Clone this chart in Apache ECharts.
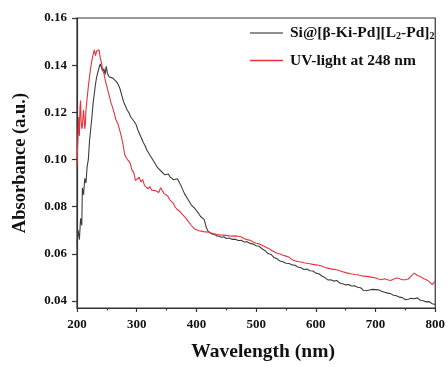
<!DOCTYPE html>
<html>
<head>
<meta charset="utf-8">
<script src="https://cdn.jsdelivr.net/npm/echarts@6/dist/echarts.min.js"></script>
<style>
  html, body { margin: 0; padding: 0; background: #fff; }
  #chart { width: 448px; height: 367px; }
</style>
</head>
<body>
<div id="chart"></div>
<script>
let seriesNames = ["Si@[β-Ki-Pd][L2-Pd]2", "UV-light at 248 nm"];
let seriesColors = ["#3d3d3d", "#e8333c"];
let xTicks = [200, 300, 400, 500, 600, 700, 800];
let yTicks = [0.04, 0.06, 0.08, 0.10, 0.12, 0.14, 0.16];

// Si@[β-Ki-Pd][L2-Pd]2 (black)
let wlBlack = [
  200, 202, 204, 206, 208, 209, 211, 213, 215, 217, 219, 221, 223, 225, 227, 229, 231, 233, 235, 237,
  239, 241, 243, 245, 247, 249, 251, 254, 257, 260, 263, 266, 269, 272, 275, 278, 281, 284, 287, 290,
  293, 296, 299, 302, 305, 308, 311, 314, 317, 320, 323, 326, 329, 332, 335, 338, 341, 344, 347, 350,
  353, 356, 359, 362, 365, 368, 371, 374, 377, 380, 383, 386, 389, 392, 395, 398, 401, 404, 407, 410,
  413, 416, 419, 422, 426, 430, 434, 438, 442, 446, 450, 455, 460, 465, 470, 475, 480, 485, 490, 495,
  500, 505, 510, 515, 520, 525, 530, 535, 540, 545, 550, 555, 560, 565, 570, 575, 580, 585, 590, 595,
  600, 605, 610, 615, 620, 625, 630, 635, 640, 645, 650, 655, 660, 665, 670, 675, 680, 685, 690, 695,
  700, 705, 710, 715, 720, 725, 730, 735, 740, 745, 750, 755, 760, 765, 770, 775, 780, 785, 790, 795, 800
];
let absBlack = [
  0.064, 0.070, 0.066, 0.075, 0.072, 0.088, 0.085, 0.092, 0.090, 0.097, 0.100, 0.108, 0.113, 0.118, 0.124, 0.128, 0.132, 0.135, 0.137, 0.139,
  0.1405, 0.139, 0.1375, 0.1385, 0.136, 0.1395, 0.1365, 0.135, 0.1355, 0.1345, 0.1348, 0.133, 0.1318, 0.1300, 0.1272, 0.1245, 0.1238, 0.1210, 0.1198, 0.1180,
  0.1178, 0.1160, 0.1148, 0.1125, 0.1118, 0.1090, 0.1072, 0.1058, 0.1040, 0.1032, 0.1015, 0.1008, 0.0990, 0.0987, 0.0965, 0.0962, 0.0950, 0.0948, 0.0935, 0.0932,
  0.0938, 0.0925, 0.0922, 0.0914, 0.0912, 0.0918, 0.0904, 0.0890, 0.0872, 0.0855, 0.0848, 0.0830, 0.0822, 0.0805, 0.0798, 0.0790, 0.0788, 0.0770, 0.0758, 0.0750,
  0.0746, 0.0716, 0.0697, 0.0692, 0.0684, 0.0682, 0.0676, 0.0674, 0.0670, 0.0672, 0.0665, 0.0667, 0.0661, 0.0662, 0.0656, 0.0657, 0.0650, 0.0651, 0.0644, 0.0641,
  0.0634, 0.0632, 0.0621, 0.0613, 0.0601, 0.0597, 0.0584, 0.0579, 0.0569, 0.0566, 0.0560, 0.0559, 0.0553, 0.0551, 0.0544, 0.0541, 0.0533, 0.0535, 0.0528, 0.0527,
  0.0518, 0.0515, 0.0506, 0.0499, 0.0489, 0.0490, 0.0484, 0.0487, 0.0476, 0.0473, 0.0468, 0.0470, 0.0463, 0.0464, 0.0458, 0.0456, 0.0445, 0.0443, 0.0446, 0.0449,
  0.0448, 0.0447, 0.0441, 0.0437, 0.0433, 0.0431, 0.0424, 0.0422, 0.0416, 0.0414, 0.0405, 0.0407, 0.0411, 0.0409, 0.0413, 0.0403, 0.0401, 0.0396, 0.0397, 0.0388, 0.0385
];

// UV-light at 248 nm (red)
let wlRed = [
  200, 201, 202, 203, 204, 205, 206, 207, 208, 209, 210, 211, 212, 213, 214, 215, 217, 219, 221, 223,
  225, 227, 229, 231, 233, 235, 237, 239, 241, 243, 245, 247, 249, 251, 253, 255, 257, 259, 262, 265,
  268, 271, 274, 277, 280, 283, 286, 289, 292, 295, 298, 301, 304, 307, 310, 313, 316, 319, 322, 325,
  328, 331, 334, 337, 340, 343, 346, 349, 352, 355, 358, 361, 364, 367, 370, 373, 376, 379, 382, 385,
  388, 391, 394, 397, 400, 404, 408, 412, 416, 420, 425, 430, 435, 440, 445, 450, 455, 460, 465, 470,
  475, 480, 485, 490, 495, 500, 505, 510, 515, 520, 525, 530, 535, 540, 545, 550, 555, 560, 565, 570,
  575, 580, 585, 590, 595, 600, 605, 610, 615, 620, 625, 630, 635, 640, 645, 650, 655, 660, 665, 670,
  675, 680, 685, 690, 695, 700, 705, 710, 715, 720, 725, 730, 735, 740, 745, 750, 755, 760, 765, 770,
  775, 780, 785, 790, 795, 800
];
let absRed = [
  0.097, 0.105, 0.112, 0.118, 0.110, 0.122, 0.125, 0.116, 0.113, 0.114, 0.118, 0.121, 0.117, 0.113, 0.115, 0.121, 0.126, 0.131, 0.135, 0.139,
  0.142, 0.1445, 0.1465, 0.144, 0.146, 0.1455, 0.1465, 0.143, 0.141, 0.138, 0.1365, 0.134, 0.132, 0.130, 0.128, 0.126, 0.124, 0.1225, 0.120, 0.117,
  0.1155, 0.113, 0.110, 0.1065, 0.102, 0.1005, 0.0995, 0.0985, 0.0955, 0.0945, 0.0910, 0.0905, 0.0925, 0.0905, 0.0915, 0.0890, 0.0885, 0.0875, 0.0885, 0.0870,
  0.0878, 0.0868, 0.0872, 0.0860, 0.0880, 0.0885, 0.0855, 0.0850, 0.0845, 0.0830, 0.0825, 0.0815, 0.0800, 0.0790, 0.0788, 0.0778, 0.0768, 0.0760, 0.0752, 0.0742,
  0.0735, 0.0722, 0.0715, 0.0705, 0.0702, 0.0698, 0.0696, 0.0694, 0.0693, 0.0692, 0.0688, 0.0685, 0.0682, 0.0680, 0.0679, 0.0678, 0.0676, 0.0675, 0.0676, 0.0674,
  0.0672, 0.0664, 0.0660, 0.0657, 0.0650, 0.0645, 0.0642, 0.0636, 0.0630, 0.0623, 0.0616, 0.0609, 0.0602, 0.0599, 0.0594, 0.0590, 0.0586, 0.0575, 0.0570, 0.0567,
  0.0565, 0.0562, 0.0560, 0.0558, 0.0555, 0.0553, 0.0551, 0.0548, 0.0542, 0.0539, 0.0536, 0.0534, 0.0532, 0.0528, 0.0524, 0.0520, 0.0517, 0.0514, 0.0512, 0.0511,
  0.0508, 0.0505, 0.0504, 0.0502, 0.0500, 0.0497, 0.0493, 0.0490, 0.0494, 0.0490, 0.0487, 0.0492, 0.0497, 0.0494, 0.0490, 0.0490, 0.0493, 0.0506, 0.0518, 0.0508,
  0.0504, 0.0495, 0.0490, 0.0482, 0.0469, 0.0484
];

function pairs(xs, ys) {
    let out = [];
    for (let i = 0; i < xs.length; i++) {
        out.push([xs[i], ys[i]]);
    }
    return out;
}

const FONT = "'Liberation Serif', 'Times New Roman', serif";

let chart = echarts.init(document.getElementById("chart"), null, { renderer: "canvas" });

let option = {
    backgroundColor: "#fff",
    animation: false,
    color: seriesColors,
    grid: {
        left: 77,
        right: 10,
        top: 18,
        bottom: 57,
        show: true,
        borderColor: "#333",
        borderWidth: 1.2,
        backgroundColor: "transparent"
    },
    legend: {
        orient: "vertical",
        left: 245,
        top: 20,
        icon: "rect",
        itemWidth: 33,
        itemHeight: 1.5,
        itemGap: 11,
        data: seriesNames,
        formatter: function (name) {
            if (name === seriesNames[0]) {
                return "{t|Si@[β-Ki-Pd][L}{s|2}{t|-Pd]}{s|2}";
            }
            return "{t|" + name + "}";
        },
        textStyle: {
            fontFamily: FONT,
            fontWeight: "bold",
            fontSize: 15.5,
            color: "#111",
            padding: [0, 0, 0, 2],
            rich: {
                t: { fontFamily: FONT, fontWeight: "bold", fontSize: 15.5, color: "#111" },
                s: { fontFamily: FONT, fontWeight: "bold", fontSize: 10, color: "#111", padding: [7, 0, 0, 0] }
            }
        }
    },
    xAxis: {
        type: "value",
        min: 200,
        max: 800,
        interval: 100,
        name: "Wavelength (nm)",
        nameLocation: "middle",
        nameGap: 34,
        nameTextStyle: { fontFamily: FONT, fontWeight: "bold", fontSize: 19.5, color: "#111", padding: [0, 0, 0, 14] },
        axisLine: { lineStyle: { color: "#333", width: 1.2 } },
        axisTick: { show: true, inside: false, length: 4, lineStyle: { color: "#333", width: 1.2 } },
        minorTick: { show: true, splitNumber: 2, length: 2.5, lineStyle: { color: "#333", width: 1.2 } },
        splitLine: { show: false },
        axisLabel: {
            margin: 10,
            fontFamily: FONT,
            fontWeight: "bold",
            fontSize: 13,
            color: "#111",
            formatter: function (v) {
                return xTicks.indexOf(v) >= 0 ? String(v) : "";
            }
        }
    },
    yAxis: {
        type: "value",
        min: 0.037,
        max: 0.16,
        name: "Absorbance (a.u.)",
        nameLocation: "middle",
        nameGap: 47,
        nameRotate: 90,
        nameTextStyle: { fontFamily: FONT, fontWeight: "bold", fontSize: 18.5, color: "#111" },
        axisLine: { lineStyle: { color: "#333", width: 1.2 } },
        axisTick: { show: true, inside: false, length: 5, lineStyle: { color: "#333", width: 1.2 } },
        splitLine: { show: false },
        axisLabel: {
            margin: 10,
            showMinLabel: false,
            fontFamily: FONT,
            fontWeight: "bold",
            fontSize: 13,
            color: "#111",
            formatter: function (v) {
                for (let i = 0; i < yTicks.length; i++) {
                    if (Math.abs(v - yTicks[i]) < 1e-6) return yTicks[i].toFixed(2);
                }
                return "";
            }
        }
    },
    series: [
        {
            name: seriesNames[0],
            type: "line",
            symbol: "none",
            data: pairs(wlBlack, absBlack),
            lineStyle: { color: seriesColors[0], width: 1.1 },
            itemStyle: { color: "#6a6a6a" },
            z: 2
        },
        {
            name: seriesNames[1],
            type: "line",
            symbol: "none",
            data: pairs(wlRed, absRed),
            lineStyle: { color: seriesColors[1], width: 1.1 },
            itemStyle: { color: seriesColors[1] },
            z: 3
        }
    ]
};

chart.setOption(option);
</script>
</body>
</html>
